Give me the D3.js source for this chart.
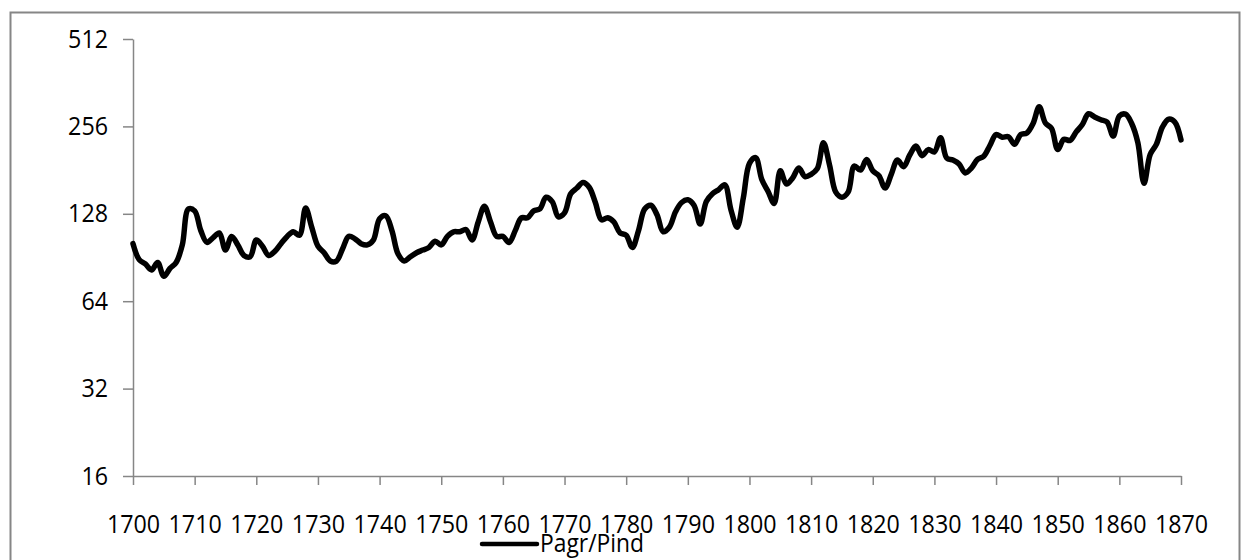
<!DOCTYPE html>
<html>
<head>
<meta charset="utf-8">
<script src="https://cdn.jsdelivr.net/npm/d3@7"></script>
<style>
  html, body { margin: 0; padding: 0; background: #fff; }
  svg { display: block; }
  text { font-family: "Open Sans", "Noto Sans", sans-serif; fill: #000; }
</style>
</head>
<body>
<svg id="chart" width="1243" height="560"></svg>
<script>
// Relative price of agricultural to industrial goods, yearly 1700-1870
const startYear = 1700;
const ratioValues = [
  101, 89, 86, 82, 87, 78, 83, 87, 100, 133,   // 1700-1709
  131, 112, 102, 106, 110, 96, 107, 100, 92, 91, // 1710-1719
  104, 99, 92, 95, 101, 107, 111, 108, 134, 115, // 1720-1729
  99, 94, 88, 88, 97, 107, 105, 101, 100, 104,   // 1730-1739
  123, 126, 112, 93, 88, 91, 94, 96, 98, 103,    // 1740-1749
  100, 107, 111, 111, 113, 104, 120, 136, 120, 107, // 1750-1759
  107, 102, 112, 124, 124, 131, 133, 146, 141, 125, // 1760-1769
  129, 150, 157, 164, 158, 140, 122, 124, 120, 110, // 1770-1779
  108, 98, 112, 133, 137, 127, 111, 115, 130, 140,  // 1780-1789
  143, 137, 118, 141, 150, 155, 161, 132, 115, 145, // 1790-1799
  191, 200, 168, 153, 139, 180, 162, 170, 184, 172, // 1800-1809
  175, 183, 225, 188, 152, 146, 152, 187, 181, 197, // 1810-1819
  180, 173, 157, 175, 196, 186, 204, 219, 203, 213, // 1820-1829
  209, 234, 199, 196, 190, 177, 184, 197, 202, 220, // 1830-1839
  240, 235, 236, 222, 240, 243, 262, 299, 263, 252, // 1840-1849
  213, 231, 229, 245, 260, 283, 276, 270, 265, 237, // 1850-1859
  278, 282, 262, 225, 163, 205, 222, 255, 271, 265, // 1860-1869
  230                                              // 1870
];
const years = ratioValues.map((_, i) => startYear + i);
const yTickValues = [16, 32, 64, 128, 256, 512];
const xTickValues = d3.range(1700, 1871, 10);
const seriesName = "Pagr/Pind";

const svg = d3.select("#chart");
const axisColor = "#868686";
const labelSize = 26;
const digitWidth = 13.3; // narrow digit advance for the tick labels

// outer chart frame
svg.append("rect")
  .attr("x", 10.5).attr("y", 12.5)
  .attr("width", 1229).attr("height", 600)
  .attr("fill", "none")
  .attr("stroke", axisColor)
  .attr("stroke-width", 2);

const x = d3.scaleLinear().domain([1700, 1870]).range([133, 1181]);
const y = d3.scaleLog().base(2).domain([16, 512]).range([476, 39]);

// y axis
const yAxis = svg.append("g")
  .attr("transform", `translate(${x(1700)},0)`)
  .call(d3.axisLeft(y).tickValues(yTickValues).tickFormat(d3.format("d"))
    .tickSizeInner(10).tickSizeOuter(0).tickPadding(15));
yAxis.select(".domain").attr("stroke", axisColor).attr("stroke-width", 1.5);
yAxis.selectAll(".tick line").attr("stroke", axisColor).attr("stroke-width", 1.5);
yAxis.selectAll(".tick text")
  .attr("font-size", labelSize)
  .attr("dy", "0.31em")
  .attr("textLength", d => String(d).length * digitWidth)
  .attr("lengthAdjust", "spacingAndGlyphs");

// x axis
const xAxis = svg.append("g")
  .attr("transform", `translate(0,${y(16)})`)
  .call(d3.axisBottom(x).tickValues(xTickValues).tickFormat(d3.format("d"))
    .tickSizeInner(9).tickSizeOuter(0).tickPadding(0));
xAxis.select(".domain").attr("stroke", axisColor).attr("stroke-width", 1.5);
xAxis.selectAll(".tick line").attr("stroke", axisColor).attr("stroke-width", 1.5);
xAxis.selectAll(".tick text")
  .attr("font-size", labelSize)
  .attr("dy", null)
  .attr("y", 57)
  .attr("textLength", d => String(d).length * digitWidth)
  .attr("lengthAdjust", "spacingAndGlyphs");

// series line
const line = d3.line()
  .x((d, i) => x(years[i]))
  .y(d => y(d))
  .curve(d3.curveCatmullRom.alpha(0.5));

svg.append("path")
  .datum(ratioValues)
  .attr("d", line)
  .attr("fill", "none")
  .attr("stroke", "#000")
  .attr("stroke-width", 5.5)
  .attr("stroke-linejoin", "round")
  .attr("stroke-linecap", "round");

// legend
const legend = svg.append("g").attr("transform", "translate(482,544)");
legend.append("line")
  .attr("x1", 0).attr("x2", 55)
  .attr("y1", 0).attr("y2", 0)
  .attr("stroke", "#000").attr("stroke-width", 4.5)
  .attr("stroke-linecap", "round");
legend.append("text")
  .attr("x", 58).attr("y", 8)
  .attr("font-size", labelSize)
  .attr("textLength", 104)
  .attr("lengthAdjust", "spacingAndGlyphs")
  .text(seriesName);
</script>
</body>
</html>
